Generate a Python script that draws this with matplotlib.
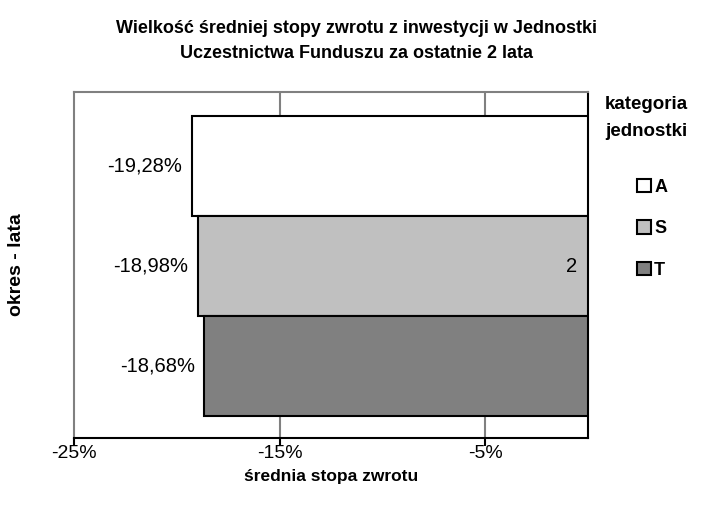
import numpy as np
import matplotlib.pyplot as plt

plt.rcParams['font.family'] = ['Liberation Sans', 'DejaVu Sans']

categories = ['A', 'S', 'T']
values = [-19.28, -18.98, -18.68]
labels = ['-19,28%', '-18,98%', '-18,68%']
colors = ['#FFFFFF', '#C0C0C0', '#808080']
xticks = [-25, -15, -5]
xticklabels = ['-25%', '-15%', '-5%']
period_label = '2'

fig = plt.figure(figsize=(7.12, 5.12), dpi=100)
ax = fig.add_axes([0.104, 0.1445, 0.722, 0.6755])

ypos = np.arange(len(categories))[::-1]
bars = []
for y, v, c, cat, lab in zip(ypos, values, colors, categories, labels):
	b = ax.barh(y, v, height=1.0, color=c, edgecolor='black', linewidth=1.5, label=cat, zorder=3)
	bars.append(b)
	ax.text(v - 0.45, y, lab, ha='right', va='center', fontsize=14.5, zorder=4)

ax.text(-0.55, ypos[1], period_label, ha='right', va='center', fontsize=14.5, zorder=4)

ax.set_xlim(-25, 0)
ax.set_ylim(-0.72, 2.74)
ax.set_xticks(xticks)
ax.set_xticklabels(xticklabels, fontsize=14)
ax.set_yticks([])
ax.tick_params(axis='x', direction='out', length=6, width=1.5, pad=-1)

for x in [-15, -5]:
	ax.axvline(x, color='#808080', linewidth=1.5, zorder=1)

for s in ['left', 'top']:
	ax.spines[s].set_color('#808080')
	ax.spines[s].set_linewidth(1.5)
ax.spines['bottom'].set_color('black')
ax.spines['bottom'].set_linewidth(1.5)
ax.spines['right'].set_color('black')
ax.spines['right'].set_linewidth(1.5)

ax.set_xlabel('średnia stopa zwrotu', fontsize=12.5, fontweight='bold', labelpad=5)
ax.set_ylabel('okres - lata', fontsize=14, fontweight='bold', labelpad=35)

fig.suptitle('Wielkość średniej stopy zwrotu z inwestycji w Jednostki\nUczestnictwa Funduszu za ostatnie 2 lata',
	fontsize=13, fontweight='bold', x=0.5, y=0.96, linespacing=1.55)

fig.text(605 / 712, 1 - 96 / 512, 'kategoria\njednostki', ha='left', va='top',
	fontsize=13.5, fontweight='bold', linespacing=1.75)

leg = fig.legend(handles=[b[0] for b in bars], labels=categories, loc='upper left',
	bbox_to_anchor=(637 / 712, 1 - 179 / 512), frameon=False, fontsize=13,
	handlelength=0.75, handleheight=0.75, handletextpad=0.2, labelspacing=1.35,
	borderpad=0, borderaxespad=0)
for t in leg.get_texts():
	t.set_fontweight('bold')

fig.savefig('out.png', dpi=100)
